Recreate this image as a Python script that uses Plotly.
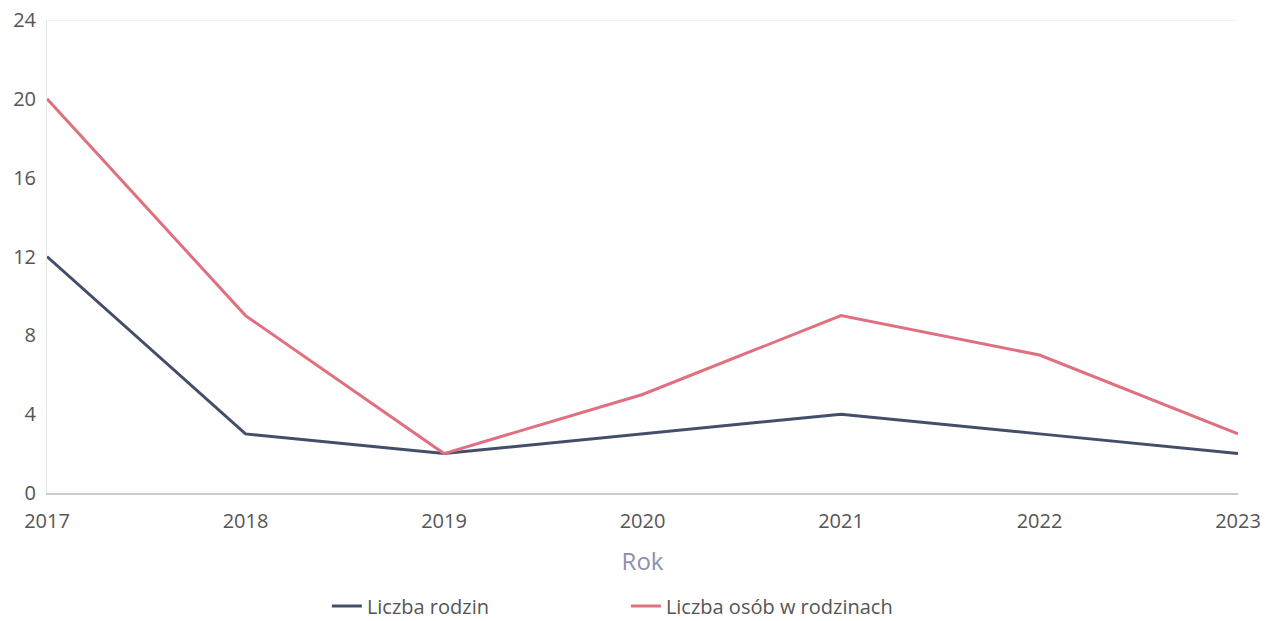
import plotly.graph_objects as go

years = [2017, 2018, 2019, 2020, 2021, 2022, 2023]
liczba_rodzin = [12, 3, 2, 3, 4, 3, 2]
liczba_osob = [20, 9, 2, 5, 9, 7, 3]
y_ticks = [0, 4, 8, 12, 16, 20, 24]

fig = go.Figure()
fig.add_trace(go.Scatter(x=years, y=liczba_rodzin, mode="lines", name="Liczba rodzin",
                         line=dict(color="#434e69", width=3)))
fig.add_trace(go.Scatter(x=years, y=liczba_osob, mode="lines", name="Liczba osób w rodzinach",
                         line=dict(color="#e0707f", width=3)))

fig.update_layout(
    width=1268, height=621,
    margin=dict(l=47, r=30, t=20, b=128),
    plot_bgcolor="white", paper_bgcolor="white",
    font=dict(family="Open Sans", size=20, color="#555555"),
    showlegend=True,
    legend=dict(orientation="h", x=0.235, xanchor="left",
                yref="container", y=0.024, yanchor="middle",
                font=dict(size=20, color="#555555"), entrywidth=254, entrywidthmode="pixels"),
    xaxis=dict(
        title=dict(text="Rok", font=dict(size=24, color="#8a8fb0"), standoff=20),
        tickmode="array", tickvals=years, range=[2017, 2023], automargin=False,
        showgrid=False, zeroline=False, showline=True, linecolor="#cccccc", linewidth=2,
        ticks="", ticklabelstandoff=9, ticklabeloverflow="allow",
    ),
    yaxis=dict(
        tickvals=y_ticks, range=[0, 24], automargin=False,
        showgrid=False, zeroline=False, showline=True, linecolor="#e6e6e6", linewidth=1,
        ticks="", ticklabelstandoff=6, ticklabeloverflow="allow",
    ),
)
fig.add_hline(y=24, line=dict(color="#f2f2f2", width=2))

# drop the default 8px page margin so the figure sits at the window corner
fig.write_html("out.html", config={"displayModeBar": False},
               post_script="document.body.style.margin='0px';")
